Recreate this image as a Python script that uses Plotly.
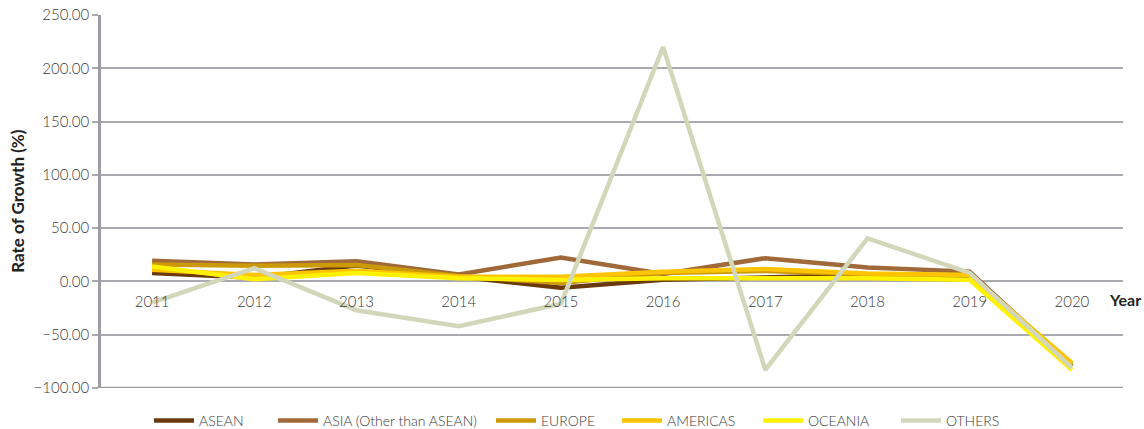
import plotly.graph_objects as go

years = ["2011", "2012", "2013", "2014", "2015", "2016", "2017", "2018", "2019", "2020"]

asean = [8.0, 3.5, 15.0, 5.0, -6.0, 1.5, 3.3, 6.0, 4.5, -80.0]
asia_other = [19.5, 16.0, 19.0, 6.5, 22.5, 7.0, 21.8, 13.0, 9.2, -80.0]
europe = [16.0, 14.8, 15.5, 5.0, -1.5, 8.0, 9.8, 6.5, 6.0, -78.0]
americas = [11.0, 6.0, 10.0, 4.5, 4.5, 9.0, 11.7, 7.5, 6.0, -76.5]
oceania = [14.0, 2.0, 8.0, 3.0, 1.4, 3.0, 3.0, 3.0, 1.5, -83.0]
others = [-20.0, 12.5, -27.0, -42.0, -21.0, 220.0, -83.0, 40.5, 8.0, -81.0]

series = [
    ("ASEAN", asean, "#6b3a0c"),
    ("ASIA (Other than ASEAN)", asia_other, "#a0693a"),
    ("EUROPE", europe, "#cc9a06"),
    ("AMERICAS", americas, "#ffc400"),
    ("OCEANIA", oceania, "#fff200"),
    ("OTHERS", others, "#d3d7ba"),
]

# left edge (in pixels from the figure's left) of each legend entry
legend_left_px = [149, 273, 491, 617, 758, 896]

font_family = "Lato, 'Noto Sans', sans-serif"
text_color = "#3a3a3a"
grid_color = "#a9a9b0"

W, H = 1144, 429
M_L, M_R, M_T, M_B = 101, 21, 15, 41
plot_w = W - M_L - M_R

fig = go.Figure()
legend_layouts = {}
for i, (name, vals, color) in enumerate(series):
    key = "legend" if i == 0 else f"legend{i + 1}"
    fig.add_trace(go.Scatter(
        x=years, y=vals, name=name, mode="lines",
        line=dict(color=color, width=4.5),
        legend=key,
    ))
    legend_layouts[key] = dict(
        orientation="h",
        x=(legend_left_px[i] - M_L) / plot_w, xanchor="left",
        yref="container", y=0.019, yanchor="middle",
        font=dict(size=14, color=text_color, weight=300), itemwidth=40,
        bgcolor="rgba(0,0,0,0)", borderwidth=0,
    )

y_min, y_max = -100, 250

fig.update_layout(
    width=W, height=H,
    margin=dict(l=M_L, r=M_R, t=M_T, b=M_B, autoexpand=False),
    paper_bgcolor="white", plot_bgcolor="white",
    font=dict(family=font_family, color=text_color, size=14),
    showlegend=True,
    xaxis=dict(
        type="category", range=[-0.5, 9.5],
        anchor="free", position=(0 - y_min) / (y_max - y_min),
        showgrid=False, showline=False, zeroline=False,
        ticks="outside", ticklen=7, tickcolor="rgba(0,0,0,0)",
        tickfont=dict(size=15, color=text_color, weight=300),
    ),
    yaxis=dict(
        range=[y_min, y_max], dtick=50, tickformat=".2f",
        showgrid=True, gridcolor=grid_color, gridwidth=1.5,
        zeroline=True, zerolinecolor=grid_color, zerolinewidth=1.5,
        showline=True, linecolor="#9c9ca2", linewidth=2.5,
        ticks="outside", ticklen=6, tickcolor=grid_color, tickwidth=1.5,
        tickfont=dict(size=15, color=text_color, weight=300),
    ),
    **legend_layouts,
)

# bottom frame line along the axis minimum
fig.add_shape(type="line", xref="paper", yref="y", x0=0, x1=1, y0=y_min, y1=y_min,
              line=dict(color="#9c9ca2", width=2.5), layer="below")

fig.add_annotation(
    text="<b>Rate of Growth (%)</b>", textangle=-90,
    xref="paper", yref="paper", x=-0.082, y=0.5,
    xanchor="center", yanchor="middle", showarrow=False,
    font=dict(size=17, color="#222222", family=font_family),
)
fig.add_annotation(
    text="<b>Year</b>", xref="paper", yref="y", x=1.0, y=0,
    xanchor="left", yanchor="middle", xshift=-16, yshift=-18, showarrow=False,
    font=dict(size=16, color="#222222", family=font_family),
)

fig.write_html("out.html")
